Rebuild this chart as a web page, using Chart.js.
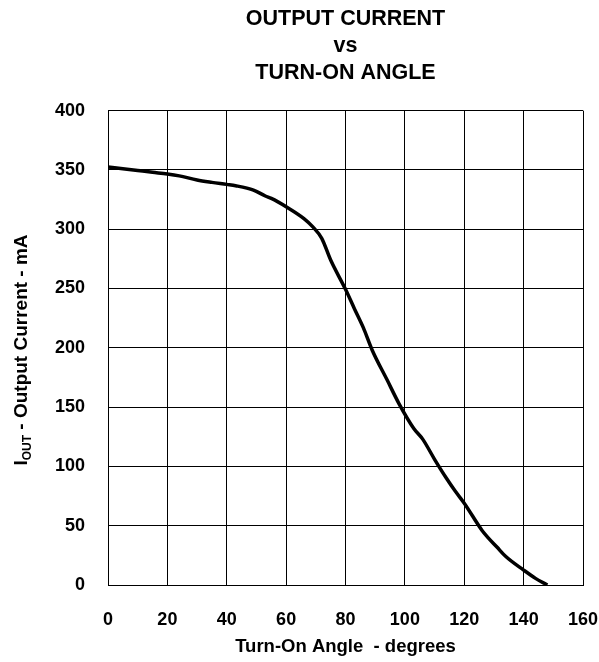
<!DOCTYPE html>
<html>
<head>
<meta charset="utf-8">
<script src="https://cdn.jsdelivr.net/npm/chart.js@4/dist/chart.umd.min.js"></script>
<style>
  html, body { margin: 0; padding: 0; background: #fff; }
  #wrap { width: 599px; height: 662px; }
</style>
</head>
<body>
<div id="wrap"><canvas id="c" width="599" height="662"></canvas></div>
<script>
// Data
const angleDeg = [0, 5, 10, 15, 20, 24, 30, 35, 40, 43, 49, 53, 55, 60, 66, 69, 72, 75, 80, 83, 86, 89, 94, 98, 103, 106, 110, 114, 117, 120, 126, 128, 131, 134, 140, 144, 148];
const currentMA = [352.5, 351, 349.5, 348, 346.6, 345, 341.5, 339.5, 337.8, 336.7, 333, 328, 326, 319, 309, 302, 292.3, 274, 249.3, 233, 217, 198, 173, 153, 132, 123, 106, 90, 79, 69, 46, 40, 32, 24, 12.6, 5.6, 0];
const xTicks = [0, 20, 40, 60, 80, 100, 120, 140, 160];
const yTicks = [0, 50, 100, 150, 200, 250, 300, 350, 400];
const titleLines = ['OUTPUT CURRENT', 'vs', 'TURN-ON ANGLE'];
const xTitle = 'Turn-On Angle  - degrees';
const yTitleMain = 'I';
const yTitleSub = 'OUT';
const yTitleRest = ' - Output Current - mA';

const FONT = '"Liberation Sans", Arial, sans-serif';

const yTitlePlugin = {
  id: 'yTitle',
  afterDraw(chart) {
    const ctx = chart.ctx;
    const big = 'bold 19px ' + FONT;
    const small = 'bold 12px ' + FONT;
    ctx.save();
    ctx.font = big;
    const w1 = ctx.measureText(yTitleMain).width;
    const w3 = ctx.measureText(yTitleRest).width;
    ctx.font = small;
    const w2 = ctx.measureText(yTitleSub).width;
    const total = w1 + w2 + w3;
    const cy = 350;
    ctx.translate(27, cy);
    ctx.rotate(-Math.PI / 2);
    ctx.fillStyle = '#000';
    ctx.textBaseline = 'alphabetic';
    ctx.textAlign = 'left';
    let x = -total / 2;
    ctx.font = big;
    ctx.fillText(yTitleMain, x, 0);
    x += w1;
    ctx.font = small;
    ctx.fillText(yTitleSub, x, 4);
    x += w2;
    ctx.font = big;
    ctx.fillText(yTitleRest, x, 0);
    ctx.restore();
  }
};

new Chart(document.getElementById('c'), {
  type: 'line',
  data: {
    datasets: [{
      data: angleDeg.map((a, i) => ({ x: a, y: currentMA[i] })),
      borderColor: '#000',
      borderWidth: 3.5,
      pointRadius: 0,
      fill: false,
      cubicInterpolationMode: 'monotone'
    }]
  },
  options: {
    responsive: false,
    animation: false,
    devicePixelRatio: 1,
    layout: { padding: { left: 0, right: 16, top: 0, bottom: 4 } },
    plugins: {
      legend: { display: false },
      tooltip: { enabled: false },
      title: {
        display: true,
        fullSize: false,
        text: titleLines,
        color: '#000',
        font: { family: FONT, size: 21.5, weight: 'bold', lineHeight: 1.25 },
        padding: { top: 6, bottom: 24 }
      }
    },
    scales: {
      x: {
        type: 'linear',
        min: 0,
        max: 160,
        afterBuildTicks(scale) { scale.ticks = xTicks.map(v => ({ value: v })); },
        afterFit(scale) { scale.height = 73; scale.paddingLeft = 0; scale.paddingRight = 0; },
        grid: { color: '#000', lineWidth: 1, drawTicks: false },
        border: { color: '#000', width: 1 },
        ticks: {
          color: '#000',
          padding: 24,
          maxRotation: 0,
          font: { family: FONT, size: 18, weight: 'bold' }
        },
        title: {
          display: true,
          text: xTitle,
          color: '#000',
          padding: { top: 0, bottom: 0 },
          font: { family: FONT, size: 18.5, weight: 'bold' }
        }
      },
      y: {
        type: 'linear',
        min: 0,
        max: 400,
        afterBuildTicks(scale) { scale.ticks = yTicks.map(v => ({ value: v })); },
        afterFit(scale) { scale.width = 108; scale.paddingTop = 0; scale.paddingBottom = 0; },
        grid: { color: '#000', lineWidth: 1, drawTicks: false },
        border: { color: '#000', width: 1 },
        ticks: {
          color: '#000',
          padding: 23,
          font: { family: FONT, size: 18, weight: 'bold' }
        }
      }
    }
  },
  plugins: [yTitlePlugin]
});
</script>
</body>
</html>
